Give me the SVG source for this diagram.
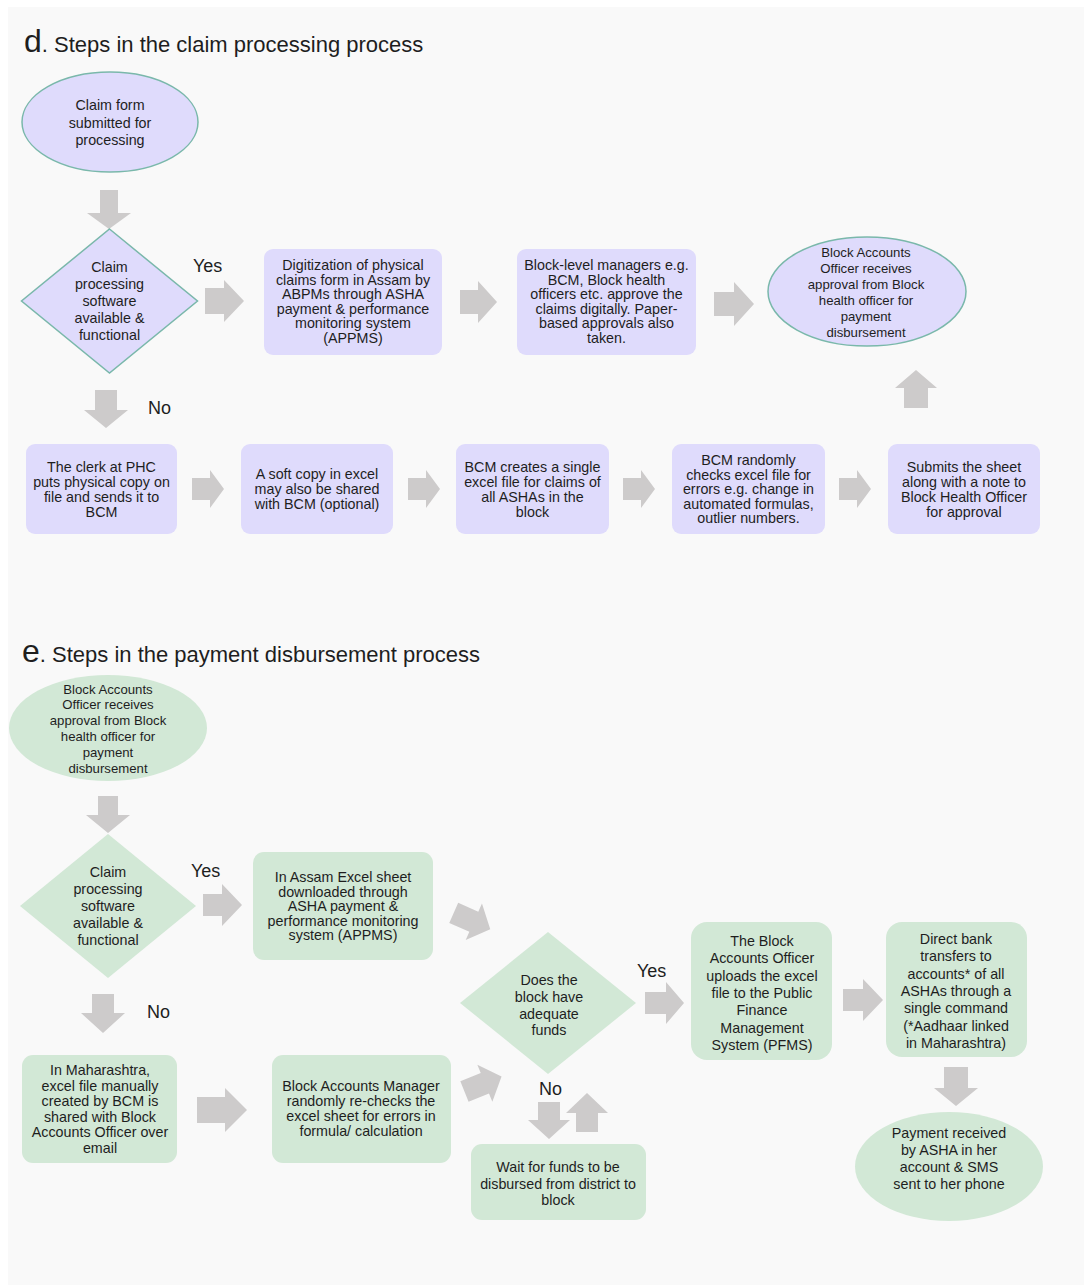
<svg xmlns="http://www.w3.org/2000/svg" width="1084" height="1285" viewBox="0 0 1084 1285">
<style>
text{font-family:"Liberation Sans",Arial,sans-serif;fill:#1e1e1e}
.t{text-anchor:middle;font-size:14.3px}
.ts{text-anchor:middle;font-size:13.2px}
.lbl{font-size:18px}
.title{font-size:22px}
.big{font-size:32px}
.lav{fill:#dfdbfc}
.lavs{fill:#dfdbfc;stroke:#7ab8ab;stroke-width:1.5}
.grn{fill:#d2e8d6}
.arr{fill:#cdcbcb}
</style>
<defs>
<path id="darr" d="M-20,-11 H2 V-20 L20,0 L2,20 V11 H-20 Z"/>
</defs>
<rect x="0" y="0" width="1084" height="1285" fill="#ffffff"/>
<rect x="8" y="7" width="1076" height="1278" fill="#f9f9f9"/>

<text x="24" y="52" class="title"><tspan class="big">d</tspan>. Steps in the claim processing process</text>
<text x="22" y="662" class="title"><tspan class="big">e</tspan>. Steps in the payment disbursement process</text>

<g id="connectors">
<path class="arr" d="M100,190 V213 H87 L109,229 L131,213 H118 V190 Z"/>
<path class="arr" d="M205,288 H224 V280 L244,301 L224,322 V314 H205 Z"/>
<path class="arr" d="M460,290 H478 V281 L497,302 L478,323 V314 H460 Z"/>
<path class="arr" d="M714,292 H734 V282 L754,304 L734,326 V316 H714 Z"/>
<path class="arr" d="M95,390 V410 H84 L106,428 L128,410 H117 V390 Z"/>
<path class="arr" d="M904,408 V388 H895 L916,370 L937,388 H928 V408 Z"/>
<path class="arr" d="M192,478 H210 V470 L224,489 L210,508 V500 H192 Z"/>
<path class="arr" d="M408,478 H426 V470 L440,489 L426,508 V500 H408 Z"/>
<path class="arr" d="M623,478 H641 V470 L655,489 L641,508 V500 H623 Z"/>
<path class="arr" d="M839,478 H857 V470 L871,489 L857,508 V500 H839 Z"/>
<path class="arr" d="M98,796 V815 H86 L108,833 L130,815 H118 V796 Z"/>
<path class="arr" d="M203,894 H222 V884 L242,905 L222,926 V916 H203 Z"/>
<use href="#darr" class="arr" transform="translate(472,921) rotate(24)"/>
<use href="#darr" class="arr" transform="translate(483,1084) rotate(-22)"/>
<path class="arr" d="M538,1102 V1120 H528 L549,1139 L570,1120 H560 V1102 Z"/>
<path class="arr" d="M576,1132 V1113 H566 L587,1093 L608,1113 H598 V1132 Z"/>
<path class="arr" d="M645,992 H666 V982 L684,1003 L666,1024 V1014 H645 Z"/>
<path class="arr" d="M843,989 H863 V979 L883,1000 L863,1021 V1011 H843 Z"/>
<path class="arr" d="M944,1067 V1088 H934 L956,1106 L978,1088 H968 V1067 Z"/>
<path class="arr" d="M92,994 V1013 H81 L103,1033 L125,1013 H114 V994 Z"/>
<path class="arr" d="M197,1097 H225 V1088 L247,1110 L225,1132 V1123 H197 Z"/>
</g>

<g id="labels">
<text x="193" y="272" class="lbl">Yes</text>
<text x="148" y="414" class="lbl">No</text>
<text x="191" y="877" class="lbl">Yes</text>
<text x="147" y="1018" class="lbl">No</text>
<text x="637" y="977" class="lbl">Yes</text>
<text x="539" y="1095" class="lbl">No</text>
</g>

<g id="d_start">
<ellipse cx="110" cy="122" rx="88" ry="50" class="lavs"/>
<text class="t" font-size="14px"><tspan x="110" y="110">Claim form</tspan><tspan x="110" y="128">submitted for</tspan><tspan x="110" y="145">processing</tspan></text>
</g>

<g id="d_decision">
<polygon points="109.5,229 197.5,301 109.5,373 21.5,301" class="lavs"/>
<text class="t"><tspan x="109.5" y="272">Claim</tspan><tspan x="109.5" y="289">processing</tspan><tspan x="109.5" y="306">software</tspan><tspan x="109.5" y="323">available &amp;</tspan><tspan x="109.5" y="340">functional</tspan></text>
</g>

<g id="d_digitization">
<rect x="264" y="249" width="178" height="106" rx="9" class="lav"/>
<text class="t"><tspan x="353" y="270">Digitization of physical</tspan><tspan x="353" y="284.6">claims form in Assam by</tspan><tspan x="353" y="299.2">ABPMs through ASHA</tspan><tspan x="353" y="313.8">payment &amp; performance</tspan><tspan x="353" y="328.4">monitoring system</tspan><tspan x="353" y="343">(APPMS)</tspan></text>
</g>

<g id="d_block_managers">
<rect x="517" y="249" width="179" height="106" rx="9" class="lav"/>
<text class="t"><tspan x="606.5" y="270">Block-level managers e.g.</tspan><tspan x="606.5" y="284.6">BCM, Block health</tspan><tspan x="606.5" y="299.2">officers etc. approve the</tspan><tspan x="606.5" y="313.8">claims digitally. Paper-</tspan><tspan x="606.5" y="328.4">based approvals also</tspan><tspan x="606.5" y="343">taken.</tspan></text>
</g>

<g id="d_approval">
<ellipse cx="867" cy="291.5" rx="99" ry="54.5" class="lavs"/>
<text class="ts"><tspan x="866" y="256.5">Block Accounts</tspan><tspan x="866" y="272.5">Officer receives</tspan><tspan x="866" y="288.5">approval from Block</tspan><tspan x="866" y="304.5">health officer for</tspan><tspan x="866" y="320.5">payment</tspan><tspan x="866" y="336.5">disbursement</tspan></text>
</g>

<g id="d_clerk">
<rect x="26" y="444" width="151" height="90" rx="9" class="lav"/>
<text class="t"><tspan x="101.5" y="472">The clerk at PHC</tspan><tspan x="101.5" y="487">puts physical copy on</tspan><tspan x="101.5" y="502">file and sends it to</tspan><tspan x="101.5" y="517">BCM</tspan></text>
</g>

<g id="d_softcopy">
<rect x="241" y="444" width="152" height="90" rx="9" class="lav"/>
<text class="t"><tspan x="317" y="479">A soft copy in excel</tspan><tspan x="317" y="494">may also be shared</tspan><tspan x="317" y="509">with BCM (optional)</tspan></text>
</g>

<g id="d_bcm_creates">
<rect x="456" y="444" width="153" height="90" rx="9" class="lav"/>
<text class="t"><tspan x="532.5" y="472">BCM creates a single</tspan><tspan x="532.5" y="487">excel file for claims of</tspan><tspan x="532.5" y="502">all ASHAs in the</tspan><tspan x="532.5" y="517">block</tspan></text>
</g>

<g id="d_bcm_checks">
<rect x="672" y="444" width="153" height="90" rx="9" class="lav"/>
<text class="t"><tspan x="748.5" y="465">BCM randomly</tspan><tspan x="748.5" y="479.5">checks excel file for</tspan><tspan x="748.5" y="494">errors e.g. change in</tspan><tspan x="748.5" y="508.5">automated formulas,</tspan><tspan x="748.5" y="523">outlier numbers.</tspan></text>
</g>

<g id="d_submits">
<rect x="888" y="444" width="152" height="90" rx="9" class="lav"/>
<text class="t"><tspan x="964" y="472">Submits the sheet</tspan><tspan x="964" y="487">along with a note to</tspan><tspan x="964" y="502">Block Health Officer</tspan><tspan x="964" y="517">for approval</tspan></text>
</g>

<g id="e_start">
<ellipse cx="108" cy="728" rx="99" ry="53" class="grn"/>
<text class="ts"><tspan x="108" y="693.5">Block Accounts</tspan><tspan x="108" y="709.3">Officer receives</tspan><tspan x="108" y="725.1">approval from Block</tspan><tspan x="108" y="740.9">health officer for</tspan><tspan x="108" y="756.7">payment</tspan><tspan x="108" y="772.5">disbursement</tspan></text>
</g>

<g id="e_decision">
<polygon points="108,834 196,906 108,978 20,906" class="grn"/>
<text class="t"><tspan x="108" y="877">Claim</tspan><tspan x="108" y="894">processing</tspan><tspan x="108" y="911">software</tspan><tspan x="108" y="928">available &amp;</tspan><tspan x="108" y="945">functional</tspan></text>
</g>

<g id="e_assam">
<rect x="253" y="852" width="180" height="108" rx="11" class="grn"/>
<text class="t"><tspan x="343" y="882">In Assam Excel sheet</tspan><tspan x="343" y="896.5">downloaded through</tspan><tspan x="343" y="911">ASHA payment &amp;</tspan><tspan x="343" y="925.5">performance monitoring</tspan><tspan x="343" y="940">system (APPMS)</tspan></text>
</g>

<g id="e_funds">
<polygon points="548,932 636,1003 548,1074 460,1003" class="grn"/>
<text class="t"><tspan x="549" y="985">Does the</tspan><tspan x="549" y="1002">block have</tspan><tspan x="549" y="1019">adequate</tspan><tspan x="549" y="1035">funds</tspan></text>
</g>

<g id="e_pfms">
<rect x="691" y="922" width="141" height="138" rx="16" class="grn"/>
<text class="t"><tspan x="762" y="946">The Block</tspan><tspan x="762" y="963.3">Accounts Officer</tspan><tspan x="762" y="980.6">uploads the excel</tspan><tspan x="762" y="997.9">file to the Public</tspan><tspan x="762" y="1015.2">Finance</tspan><tspan x="762" y="1032.5">Management</tspan><tspan x="762" y="1049.8">System (PFMS)</tspan></text>
</g>

<g id="e_transfer">
<rect x="886" y="922" width="141" height="135" rx="16" class="grn"/>
<text class="t"><tspan x="956" y="944">Direct bank</tspan><tspan x="956" y="961.3">transfers to</tspan><tspan x="956" y="978.6">accounts* of all</tspan><tspan x="956" y="995.9">ASHAs through a</tspan><tspan x="956" y="1013.2">single command</tspan><tspan x="956" y="1030.5">(*Aadhaar linked</tspan><tspan x="956" y="1047.8">in Maharashtra)</tspan></text>
</g>

<g id="e_received">
<ellipse cx="949" cy="1166.5" rx="94" ry="54.5" class="grn"/>
<text class="t"><tspan x="949" y="1138">Payment received</tspan><tspan x="949" y="1155">by ASHA in her</tspan><tspan x="949" y="1172">account &amp; SMS</tspan><tspan x="949" y="1189">sent to her phone</tspan></text>
</g>

<g id="e_maharashtra">
<rect x="22" y="1055" width="155" height="108" rx="11" class="grn"/>
<text class="t"><tspan x="100" y="1075">In Maharashtra,</tspan><tspan x="100" y="1090.6">excel file manually</tspan><tspan x="100" y="1106.2">created by BCM is</tspan><tspan x="100" y="1121.8">shared with Block</tspan><tspan x="100" y="1137.4">Accounts Officer over</tspan><tspan x="100" y="1153">email</tspan></text>
</g>

<g id="e_recheck">
<rect x="272" y="1055" width="179" height="108" rx="11" class="grn"/>
<text class="t"><tspan x="361" y="1091">Block Accounts Manager</tspan><tspan x="361" y="1106">randomly re-checks the</tspan><tspan x="361" y="1121">excel sheet for errors in</tspan><tspan x="361" y="1136">formula/ calculation</tspan></text>
</g>

<g id="e_wait">
<rect x="471" y="1144" width="175" height="76" rx="11" class="grn"/>
<text class="t"><tspan x="558" y="1172">Wait for funds to be</tspan><tspan x="558" y="1188.5">disbursed from district to</tspan><tspan x="558" y="1205">block</tspan></text>
</g>
</svg>
